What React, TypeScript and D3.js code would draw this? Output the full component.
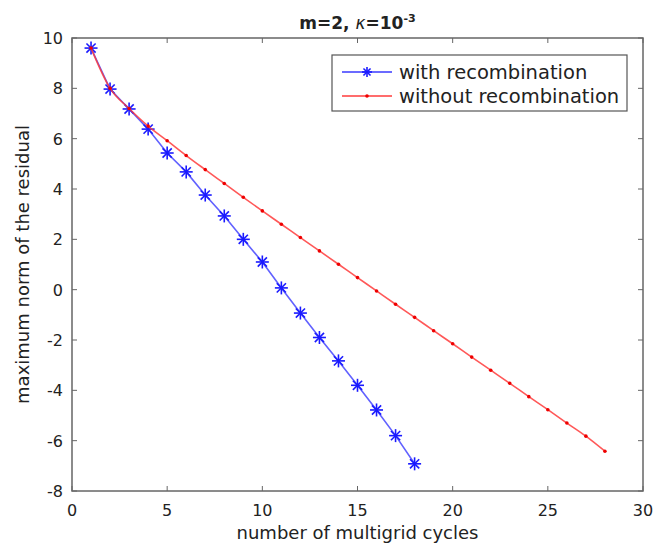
import React from "react";
import * as d3 from "d3";

const xTicks = [0, 5, 10, 15, 20, 25, 30];
const yTicks = [-8, -6, -4, -2, 0, 2, 4, 6, 8, 10];
const withX = [1, 2, 3, 4, 5, 6, 7, 8, 9, 10, 11, 12, 13, 14, 15, 16, 17, 18];
const withY = [9.6, 7.97, 7.18, 6.38, 5.43, 4.68, 3.76, 2.93, 2.0, 1.1, 0.07, -0.93, -1.9, -2.83, -3.8, -4.78, -5.8, -6.92];
const withoutX = [1, 2, 3, 4, 5, 6, 7, 8, 9, 10, 11, 12, 13, 14, 15, 16, 17, 18, 19, 20, 21, 22, 23, 24, 25, 26, 27, 28];
const withoutY = [9.6, 8.0, 7.2, 6.5, 5.92, 5.33, 4.77, 4.22, 3.67, 3.13, 2.6, 2.07, 1.54, 1.01, 0.48, -0.05, -0.58, -1.1, -1.63, -2.15, -2.68, -3.2, -3.72, -4.25, -4.77, -5.3, -5.82, -6.42];
const legendLabels = ["with recombination", "without recombination"];

const W = 665, H = 547;
const L = 72, R = 643, T = 38, B = 491;
const font = "DejaVu Sans, sans-serif";
const axisColor = "#666";
const blue = "#3a3aff";
const red = "#ff3b3b";

function Star({ x, y, r }: { x: number; y: number; r: number }) {
  const lines = [];
  for (let i = 0; i < 4; i++) {
    const a = (i * Math.PI) / 4;
    lines.push(
      <line key={i} x1={x - r * Math.cos(a)} y1={y - r * Math.sin(a)} x2={x + r * Math.cos(a)} y2={y + r * Math.sin(a)} stroke="#1a1aff" strokeWidth={1.6} />
    );
  }
  return <g>{lines}</g>;
}

export default function App() {
  const x = d3.scaleLinear().domain([0, 30]).range([L, R]);
  const y = d3.scaleLinear().domain([-8, 10]).range([B, T]);
  const blueLine = d3.line<[number, number]>().x((d) => x(d[0])).y((d) => y(d[1]))(withX.map((v, i) => [v, withY[i]]))!;
  const redLine = d3.line<[number, number]>().curve(d3.curveMonotoneX).x((d) => x(d[0])).y((d) => y(d[1]))(withoutX.map((v, i) => [v, withoutY[i]]))!;
  const tk = 5;
  return (
    <svg width={W} height={H} style={{ display: "block", position: "absolute", left: 0, top: 0 }}>
      <rect width={W} height={H} fill="#fff" />
      <text x={(L + R) / 2} y={29} textAnchor="middle" fontFamily={font} fontSize={17} fontWeight="bold" fill="#222">
        m=2, <tspan fontStyle="italic" fontWeight="normal">κ</tspan>=10<tspan dy={-7} fontSize={11}>-3</tspan>
      </text>
      {xTicks.map((t) => (
        <g key={"x" + t}>
          <line x1={x(t)} x2={x(t)} y1={B} y2={B - tk} stroke={axisColor} />
          <line x1={x(t)} x2={x(t)} y1={T} y2={T + tk} stroke={axisColor} />
          <text x={x(t)} y={B + 25} textAnchor="middle" fontFamily={font} fontSize={16} fill="#222">{t}</text>
        </g>
      ))}
      {yTicks.map((t) => (
        <g key={"y" + t}>
          <line x1={L} x2={L + tk} y1={y(t)} y2={y(t)} stroke={axisColor} />
          <line x1={R} x2={R - tk} y1={y(t)} y2={y(t)} stroke={axisColor} />
          <text x={L - 9} y={y(t) + 6} textAnchor="end" fontFamily={font} fontSize={16} fill="#222">{t}</text>
        </g>
      ))}
      <rect x={L} y={T} width={R - L} height={B - T} fill="none" stroke={axisColor} strokeWidth={1.5} />
      <text x={(L + R) / 2} y={B + 48} textAnchor="middle" fontFamily={font} fontSize={18} fill="#222">number of multigrid cycles</text>
      <text transform={`translate(29,${(T + B) / 2}) rotate(-90)`} textAnchor="middle" fontFamily={font} fontSize={18} fill="#222">maximum norm of the residual</text>
      <path d={blueLine} fill="none" stroke={blue} strokeOpacity={0.8} strokeWidth={1.6} />
      {withX.map((v, i) => <Star key={"s" + i} x={x(v)} y={y(withY[i])} r={6.5} />)}
      <path d={redLine} fill="none" stroke={red} strokeOpacity={0.85} strokeWidth={1.6} />
      {withoutX.map((v, i) => <circle key={"c" + i} cx={x(v)} cy={y(withoutY[i])} r={1.8} fill="#e00" />)}
      <rect x={332} y={55} width={295} height={56} fill="#fff" stroke="#555" strokeWidth={1.2} />
      <line x1={342} x2={392} y1={72} y2={72} stroke={blue} strokeWidth={1.6} />
      <Star x={367} y={72} r={5} />
      <text x={399} y={79} fontFamily={font} fontSize={19.5} fill="#222">{legendLabels[0]}</text>
      <line x1={342} x2={392} y1={96} y2={96} stroke={red} strokeWidth={1.6} />
      <circle cx={367} cy={96} r={1.8} fill="#e00" />
      <text x={399} y={103} fontFamily={font} fontSize={19.5} fill="#222">{legendLabels[1]}</text>
    </svg>
  );
}
